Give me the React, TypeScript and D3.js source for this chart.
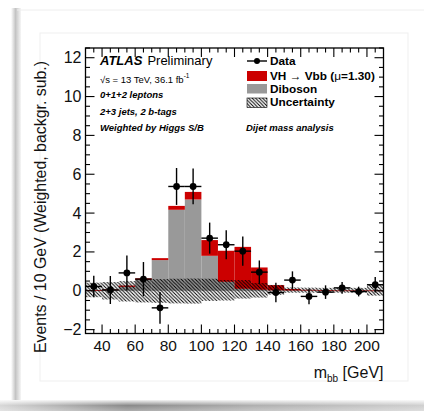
import * as d3 from 'd3';

// bin edges (GeV), 10 GeV bins
const binLow = [30, 40, 50, 60, 70, 80, 90, 100, 110, 120, 130, 140, 150, 160, 170, 180, 190, 200];
const binHigh = [40, 50, 60, 70, 80, 90, 100, 110, 120, 130, 140, 150, 160, 170, 180, 190, 200, 210];

// data points (background subtracted)
const dataVals = [0.22, 0.04, 0.92, 0.6, -0.88, 5.37, 5.37, 2.71, 2.37, 2.04, 0.96, -0.09, 0.55, -0.29, -0.07, 0.15, -0.04, 0.31];
const dataErr = [0.55, 0.72, 0.9, 0.88, 0.82, 0.95, 0.92, 0.8, 0.75, 0.75, 0.6, 0.5, 0.45, 0.4, 0.35, 0.3, 0.25, 0.4];

// stacked components
const diboson = [0.02, 0.05, 0.2, 0.56, 1.58, 4.17, 4.7, 1.8, 0.46, 0.1, 0.05, 0.02, 0.01, 0.01, 0, 0, 0, 0];
const vh = [0.01, 0.02, 0.07, 0.08, 0.1, 0.2, 0.39, 0.81, 1.6, 2.16, 1.15, 0.27, 0.08, 0.04, 0.03, 0.02, 0.02, 0.02];

// uncertainty band around zero
const uncUp = [0.42, 0.45, 0.5, 0.55, 0.6, 0.62, 0.63, 0.62, 0.55, 0.55, 0.4, 0.3, 0.17, 0.16, 0.15, 0.15, 0.15, 0.35];
const uncDown = [0.33, 0.45, 0.55, 0.6, 0.62, 0.65, 0.66, 0.52, 0.5, 0.4, 0.35, 0.2, 0.1, 0.1, 0.1, 0.1, 0.1, 0.25];

const xMajor = [40, 60, 80, 100, 120, 140, 160, 180, 200];
const xMinor = [35, 45, 50, 55, 65, 70, 75, 85, 90, 95, 105, 110, 115, 125, 130, 135, 145, 150, 155, 165, 170, 175, 185, 190, 195, 205];
const yMajor = [-2, 0, 2, 4, 6, 8, 10, 12];
const yMinor = [-1.5, -1, -0.5, 0.5, 1, 1.5, 2.5, 3, 3.5, 4.5, 5, 5.5, 6.5, 7, 7.5, 8.5, 9, 9.5, 10.5, 11, 11.5, 12.5];

const W = 424;
const H = 411;
const plot = { left: 85.5, right: 383.5, top: 48, bottom: 333.5 };
const font = '"Liberation Sans", Arial, Helvetica, sans-serif';
const RED = '#cc0000';
const GREY = '#999999';

export default function App() {
  const x = d3.scaleLinear().domain([30, 210]).range([plot.left, plot.right]);
  const y = d3.scaleLinear().domain([-2.2, 12.5]).range([plot.bottom, plot.top]);
  const lx = 247; // legend box left

  return (
    <div style={{ position: 'fixed', left: 0, top: 0 }}>
      <svg width={W} height={H} style={{ display: 'block' }} fontFamily={font}>
        <defs>
          <pattern id="hatch" patternUnits="userSpaceOnUse" width="3.5" height="3.5">
            <path d="M-1,-1 L4.5,4.5 M2.5,-1 L4.5,1 M-1,2.5 L1,4.5" stroke="#000" strokeWidth="1" />
          </pattern>
          <linearGradient id="leftShade" x1="0" x2="1" y1="0" y2="0">
            <stop offset="0" stopColor="#ffffff" />
            <stop offset="0.45" stopColor="#c4c4c4" />
            <stop offset="1" stopColor="#f6f6f6" />
          </linearGradient>
          <linearGradient id="bottomShade" x1="0" x2="1" y1="0" y2="0">
            <stop offset="0" stopColor="#d8d8d8" />
            <stop offset="0.3" stopColor="#8a8a8a" />
            <stop offset="0.6" stopColor="#b0b0b0" />
            <stop offset="1" stopColor="#d0d0d0" />
          </linearGradient>
          <linearGradient id="bottomFade" x1="0" x2="0" y1="0" y2="1">
            <stop offset="0" stopColor="#ffffff" stopOpacity="0.9" />
            <stop offset="0.5" stopColor="#ffffff" stopOpacity="0" />
            <stop offset="1" stopColor="#ffffff" stopOpacity="0.3" />
          </linearGradient>
        </defs>

        {/* card and shadows */}
        <rect x={0} y={0} width={W} height={H} fill="#fff" />
        <rect x={11} y={8} width={10} height={395} fill="url(#leftShade)" />
        <line x1={17} x2={W} y1={10} y2={10} stroke="#eeeeee" />
        <rect x={40} y={33} width={368} height={348} fill="none" stroke="#efefef" />
        <rect x={0} y={400} width={W} height={11} fill="url(#bottomShade)" />
        <rect x={0} y={400} width={W} height={11} fill="url(#bottomFade)" />

        {/* stacked histogram */}
        {binLow.map((b, i) => (
          <rect key={`d${i}`} x={x(b)} width={x(binHigh[i]) - x(b)}
            y={y(diboson[i])} height={Math.max(0, y(0) - y(diboson[i]))} fill={GREY} />
        ))}
        {binLow.map((b, i) => (
          <rect key={`v${i}`} x={x(b)} width={x(binHigh[i]) - x(b)}
            y={y(diboson[i] + vh[i])} height={Math.max(0.8, y(diboson[i]) - y(diboson[i] + vh[i]))} fill={RED} />
        ))}

        {/* uncertainty band */}
        {binLow.map((b, i) => (
          <rect key={`u${i}`} x={x(b)} width={x(binHigh[i]) - x(b)}
            y={y(uncUp[i])} height={y(-uncDown[i]) - y(uncUp[i])} fill="url(#hatch)" />
        ))}

        {/* data points */}
        {binLow.map((b, i) => {
          const cx = x((b + binHigh[i]) / 2);
          return (
            <g key={`p${i}`} stroke="#000" strokeWidth={1.4}>
              <line x1={x(b)} x2={x(binHigh[i])} y1={y(dataVals[i])} y2={y(dataVals[i])} />
              <line x1={cx} x2={cx} y1={y(dataVals[i] + dataErr[i])} y2={y(dataVals[i] - dataErr[i])} />
              <circle cx={cx} cy={y(dataVals[i])} r={3.4} fill="#000" stroke="none" />
            </g>
          );
        })}

        {/* frame and ticks */}
        <rect x={plot.left} y={plot.top} width={plot.right - plot.left} height={plot.bottom - plot.top}
          fill="none" stroke="#000" strokeWidth={1.3} />
        <g stroke="#000" strokeWidth={1.1}>
          {xMajor.map((v) => (
            <g key={`xM${v}`}>
              <line x1={x(v)} x2={x(v)} y1={plot.bottom} y2={plot.bottom - 9} />
              <line x1={x(v)} x2={x(v)} y1={plot.top} y2={plot.top + 9} />
            </g>
          ))}
          {xMinor.map((v) => (
            <g key={`xm${v}`}>
              <line x1={x(v)} x2={x(v)} y1={plot.bottom} y2={plot.bottom - 4.5} />
              <line x1={x(v)} x2={x(v)} y1={plot.top} y2={plot.top + 4.5} />
            </g>
          ))}
          {yMajor.map((v) => (
            <g key={`yM${v}`}>
              <line x1={plot.left} x2={plot.left + 9} y1={y(v)} y2={y(v)} />
              <line x1={plot.right} x2={plot.right - 9} y1={y(v)} y2={y(v)} />
            </g>
          ))}
          {yMinor.map((v) => (
            <g key={`ym${v}`}>
              <line x1={plot.left} x2={plot.left + 4.5} y1={y(v)} y2={y(v)} />
              <line x1={plot.right} x2={plot.right - 4.5} y1={y(v)} y2={y(v)} />
            </g>
          ))}
        </g>

        {/* tick labels */}
        {xMajor.map((v) => (
          <text key={`xl${v}`} x={x(v)} y={351} fontSize={15.5} textAnchor="middle" fill="#111">{v}</text>
        ))}
        {yMajor.map((v) => (
          <text key={`yl${v}`} x={plot.left - 4} y={y(v) + 5.5} fontSize={16} textAnchor="end" fill="#111">
            {v < 0 ? `\u2212${-v}` : v}
          </text>
        ))}

        {/* axis titles */}
        <text x={plot.right} y={378} fontSize={16} textAnchor="end" fill="#111">
          m<tspan fontSize={10} dy={4}>bb</tspan><tspan dy={-4}> [GeV]</tspan>
        </text>
        <text transform="translate(46,207) rotate(-90)" fontSize={15.9}
          textAnchor="middle" fill="#111">
          Events / 10 GeV (Weighted, backgr. sub.)
        </text>

        {/* labels */}
        <text x={100} y={65} fontSize={13} fill="#000">
          <tspan fontWeight="bold" fontStyle="italic">ATLAS</tspan>
          <tspan dx={5}>Preliminary</tspan>
        </text>
        <text x={100} y={83} fontSize={9.5} fill="#000">
          √s = 13 TeV, 36.1 fb<tspan fontSize={6.5} dy={-5}>-1</tspan>
        </text>
        <text x={100} y={98} fontSize={9.5} fontWeight="bold" fontStyle="italic">0+1+2 leptons</text>
        <text x={100} y={115} fontSize={9.5} fontWeight="bold" fontStyle="italic">2+3 jets, 2 b-tags</text>
        <text x={100} y={131} fontSize={9.5} fontWeight="bold" fontStyle="italic">Weighted by Higgs S/B</text>
        <text x={246} y={131} fontSize={9.5} fontWeight="bold" fontStyle="italic">Dijet mass analysis</text>

        {/* legend */}
        <line x1={lx} x2={lx + 20} y1={61} y2={61} stroke="#000" strokeWidth={1.4} />
        <circle cx={lx + 10} cy={61} r={3} fill="#000" />
        <text x={270} y={65} fontSize={11.8} fontWeight="bold">Data</text>
        <rect x={lx} y={71} width={20} height={10} fill={RED} />
        <text x={270} y={80} fontSize={11.8} fontWeight="bold">
          VH <tspan fontWeight="normal">→</tspan> Vbb (<tspan fontWeight="normal">μ</tspan>=1.30)
        </text>
        <rect x={lx} y={84} width={20} height={9.5} fill={GREY} />
        <text x={270} y={92.5} fontSize={11.8} fontWeight="bold">Diboson</text>
        <rect x={lx} y={98} width={20} height={9.5} fill="url(#hatch)" stroke="#000" strokeWidth={0.6} />
        <text x={270} y={106} fontSize={11.8} fontWeight="bold">Uncertainty</text>
      </svg>
    </div>
  );
}
